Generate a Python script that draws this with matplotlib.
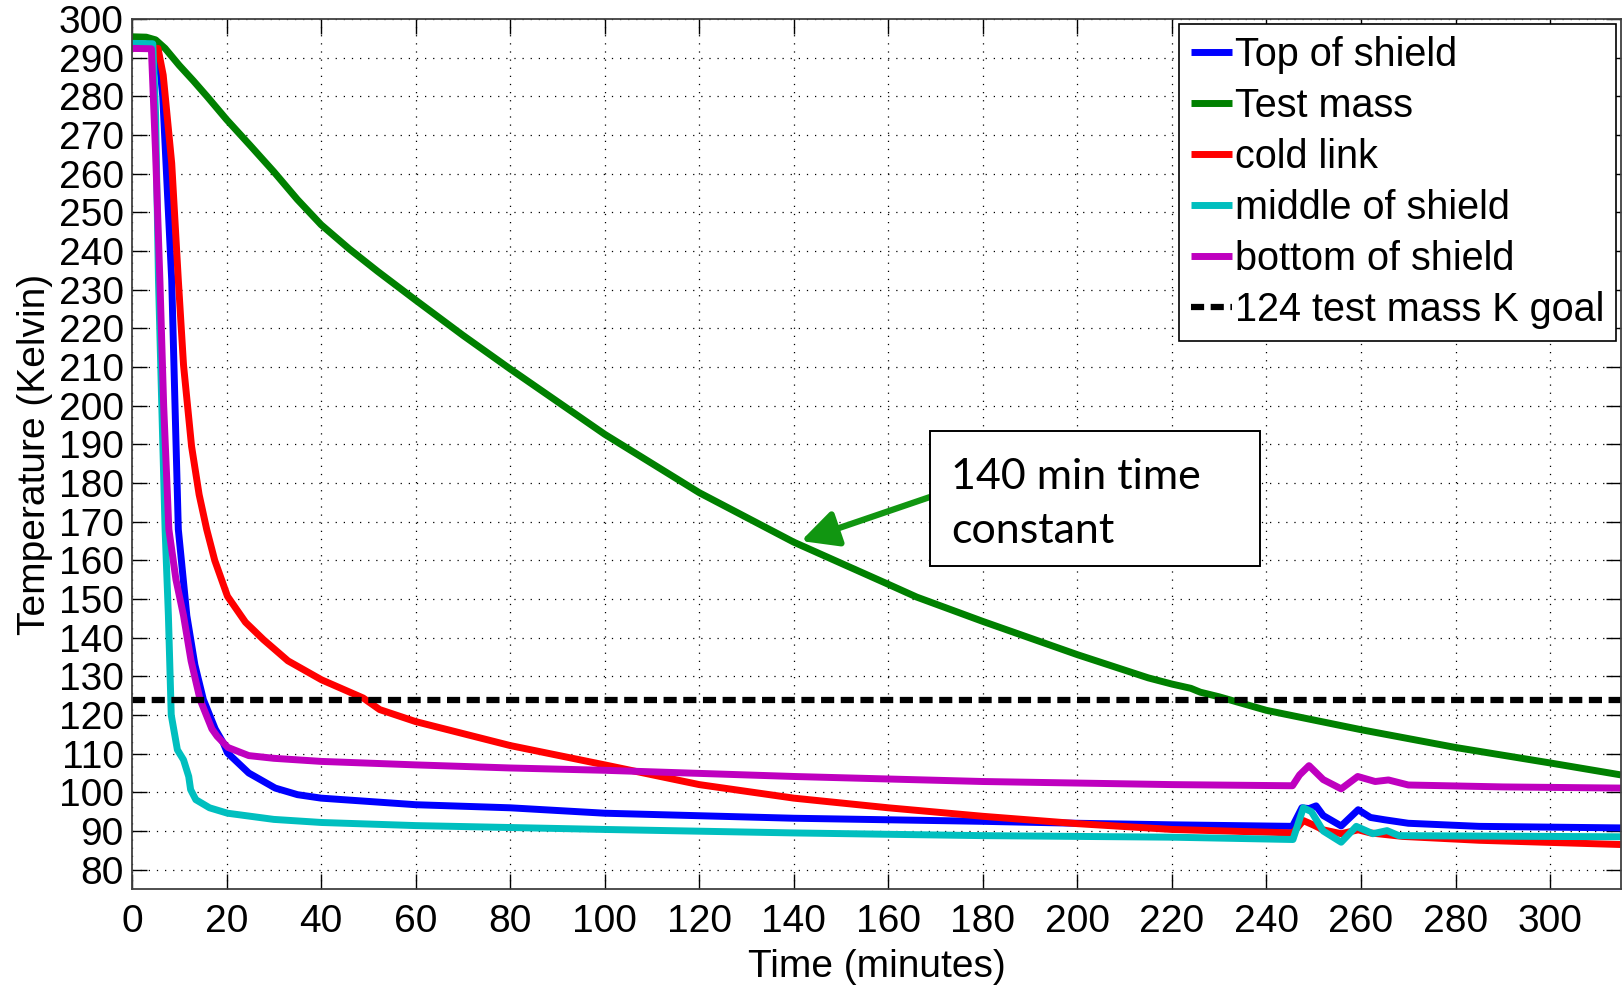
import matplotlib
matplotlib.use("Agg")
import matplotlib.pyplot as plt
from matplotlib.patches import Rectangle

plt.rcParams['font.family'] = ['Liberation Sans', 'DejaVu Sans']

# datos: tiempo (min) y temperatura (K)
top_t = [0, 5.5, 6.5, 7.5, 8.4, 9.1, 9.8, 11.6, 13.3, 15.1, 17.6, 19.3, 20.2, 24.7, 30.3,
         35, 40, 60, 80, 100, 140, 180, 200, 220, 245.5, 247.5, 249, 250.5, 252, 255.8,
         259.4, 262, 265, 270, 285, 315]
top_T = [293, 292.5, 280, 255, 232.5, 200, 168, 145.7, 133, 124, 116.4, 112.8, 110.2, 105, 101.1,
         99.4, 98.5, 96.8, 96, 94.6, 93.3, 92.5, 92, 91.6, 91.2, 96, 95.8, 96.5, 94, 91.3,
         95.5, 93.5, 92.9, 92, 91.2, 90.8]

mass_t = [0, 3, 5, 7, 10, 13, 16, 20, 25, 30, 35, 40, 46, 52, 60, 70, 80, 100, 120, 140,
          160, 166, 180, 200, 215, 220, 224, 226, 230, 240, 260, 280, 300, 315]
mass_T = [295.4, 295.3, 294.6, 292.4, 288, 284, 279.8, 274, 267.3, 260.5, 253.3, 246.8,
          240.5, 234.7, 227.3, 218.2, 209.5, 192.6, 177.5, 164.7, 153.8, 150.5, 144.2,
          135.6, 129.6, 128, 126.9, 125.9, 124.7, 121.2, 116.2, 111.6, 107.6, 104.5]

link_t = [0, 5.5, 6.6, 8.4, 9.8, 10.9, 12.6, 14.2, 15.8, 17.5, 20.2, 24, 27.8, 33, 40.1,
          48.9, 52.4, 60, 80, 100, 120, 140, 160, 180, 200, 220, 245.6, 247.8, 250, 252,
          255.8, 259.4, 262, 268.8, 285, 315]
link_T = [292.5, 292.4, 285.5, 262.7, 232.5, 210.5, 189.5, 177, 168, 160, 150.7, 144,
          139.5, 134, 129.1, 124.4, 121.4, 118.3, 112.1, 107.1, 102, 98.5, 96, 93.8, 91.9,
          90.4, 89.5, 92.7, 91.5, 90.3, 89.3, 90.3, 89.5, 88.6, 87.6, 86.5]

mid_t = [0, 4.4, 5.0, 5.6, 6.3, 7.0, 7.7, 8.3, 9.6, 10.9, 12.0, 12.4, 13.5, 16.4, 20.2,
         30, 40.1, 60, 80, 100, 140, 180, 220, 245.6, 247.8, 249.5, 252, 255.8, 259,
         262.5, 265.5, 268, 315]
mid_T = [293.7, 293.6, 275, 232.5, 200, 168, 145.7, 120, 111, 108.4, 104.1, 100.7, 98.1, 96,
         94.6, 93, 92.2, 91.4, 90.9, 90.4, 89.5, 88.8, 88.4, 87.8, 96, 95, 90, 87.1, 91.2,
         89.3, 90.1, 88.8, 88.5]

bot_t = [0, 4.1, 5.0, 5.9, 6.7, 7.8, 9.3, 10.9, 12.5, 14.4, 16.9, 18, 20.3, 24.7, 30, 40,
         60, 80, 100, 140, 180, 220, 245.5, 247, 249, 252, 255.8, 259.3, 261, 263, 265.8,
         270, 290, 315]
bot_T = [292.4, 292.3, 265, 232.5, 200, 168, 155, 145.7, 134, 124, 116.4, 114.5, 111.6,
         109.5, 108.8, 108, 107.1, 106.3, 105.7, 104.1, 102.8, 102, 101.7, 104.5, 106.9,
         103.3, 100.9, 104.1, 103.5, 102.8, 103.2, 101.9, 101.4, 101.1]

goal_T = 124

series = [
    ("Top of shield", top_t, top_T, "#0000ff"),
    ("Test mass", mass_t, mass_T, "#008000"),
    ("cold link", link_t, link_T, "#ff0000"),
    ("middle of shield", mid_t, mid_T, "#00bfbf"),
    ("bottom of shield", bot_t, bot_T, "#bf00bf"),
]
goal_label = "124 test mass K goal"

x_ticks = list(range(0, 301, 20))
y_ticks = list(range(80, 301, 10))

W, H = 1622, 986
fig = plt.figure(figsize=(W / 100, H / 100), dpi=100)
ax = fig.add_axes([132 / W, 1 - 889 / H, 1489 / W, 870 / H])

for name, t, T, c in series:
    ax.plot(t, T, color=c, lw=5, label=name, solid_capstyle='butt')
ax.axhline(goal_T, color='black', lw=4.5, dashes=(2.1, 1.05), label=goal_label)

ax.set_xlim(0, 315)
ax.set_ylim(75, 300)
ax.set_xticks(x_ticks)
ax.set_yticks(y_ticks)
ax.grid(True, color='black', lw=0.9, dashes=(1, 5.5))
ax.set_axisbelow(True)
ax.tick_params(direction='in', length=10.5, width=1, top=True, right=True,
               labelsize=28, colors='black')
ax.tick_params(axis='x', pad=11)
ax.tick_params(axis='y', pad=6)
for s in ax.spines.values():
    s.set_color('0.25')
    s.set_linewidth(1.3)

ax.set_xlabel("Time (minutes)", fontsize=28, labelpad=6)
ax.set_ylabel("Temperature (Kelvin)", fontsize=28, labelpad=4)

leg = ax.legend(loc='upper right', fontsize=28.5, frameon=True, fancybox=False,
                edgecolor='black', framealpha=1, handlelength=1.04, handletextpad=0.08,
                labelspacing=0.33, borderpad=0.3, borderaxespad=0.12)
leg.get_frame().set_linewidth(1.2)

# recuadro de la anotacion (coordenadas de pixel de la figura)
fig.patches.append(Rectangle((930 / W, 1 - 566 / H), 330 / W, 135 / H,
                             transform=fig.transFigure, facecolor='white',
                             edgecolor='black', lw=1.4, zorder=5))
fig.text(951 / W, 1 - 489 / H, "140 min time", fontsize=31, family=['Lato', 'DejaVu Sans'],
         va='baseline', zorder=6)
fig.text(951 / W, 1 - 543 / H, "constant", fontsize=31, family=['Lato', 'DejaVu Sans'],
         va='baseline', zorder=6)
ax.annotate('', xy=(801 / W, 1 - 541 / H), xytext=(930 / W, 1 - 497 / H),
            xycoords='figure fraction', textcoords='figure fraction',
            arrowprops=dict(arrowstyle='-|>,head_length=1.1,head_width=0.55',
                            color='#119611', lw=4.5, mutation_scale=20,
                            shrinkA=0, shrinkB=0))

fig.savefig("out.png", dpi=100)
